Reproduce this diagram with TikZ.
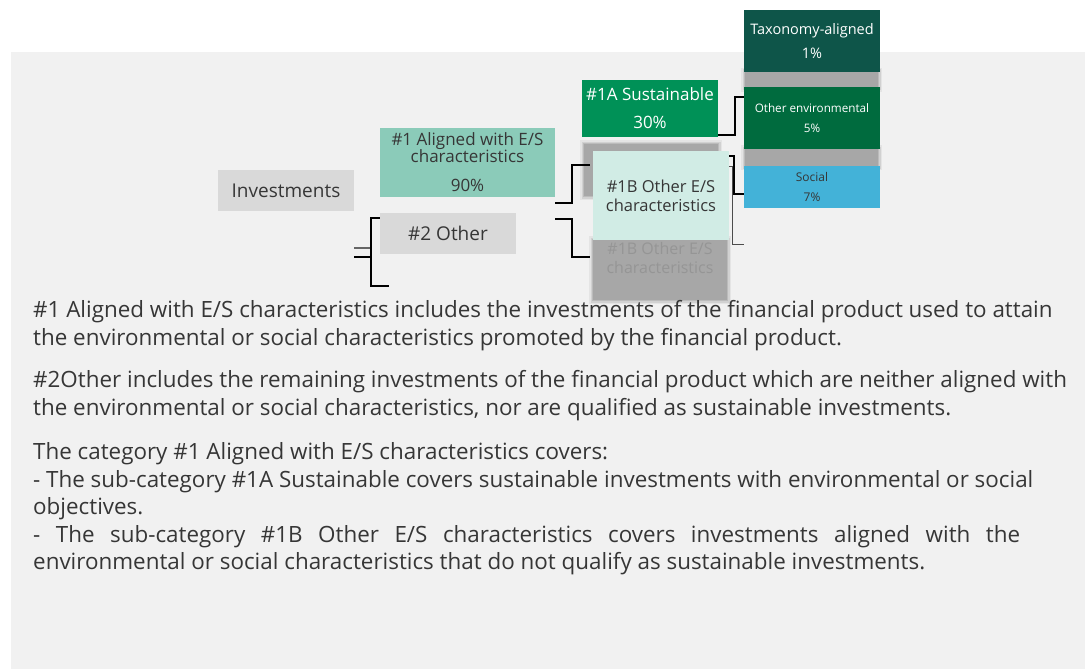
\documentclass[tikz,border=0pt]{standalone}
\usepackage{fontspec}
\setmainfont{Open Sans}
\usetikzlibrary{positioning}

\definecolor{panelgrey}{HTML}{F1F1F1}
\definecolor{invgrey}{HTML}{D9D9D9}
\definecolor{alignedteal}{HTML}{8BCBB9}
\definecolor{sustgreen}{HTML}{009157}
\definecolor{othermint}{HTML}{D1ECE5}
\definecolor{taxoteal}{HTML}{0E5549}
\definecolor{envgreen}{HTML}{006B3E}
\definecolor{socialblue}{HTML}{43B2D8}
\definecolor{shadowgrey}{HTML}{9A9A9A}
\definecolor{textgrey}{HTML}{363636}

% soft grey block (blurred copy of a box)
\newcommand{\shadowrect}[4]{%
  \foreach \e/\o in {4/0.15,2.5/0.25,1/0.4,0/0.6}
    \fill[shadowgrey,opacity=\o] (#1-\e,#2-\e) rectangle (#3+\e,#4+\e);}

\tikzset{
  box/.style={inner sep=0pt, align=center, text=textgrey},
  link/.style={line width=1.6pt, black},
  bodytext/.style={anchor=base west, inner sep=0pt, text=textgrey,
                   font=\fontsize{22.4}{26}\selectfont},
}

\begin{document}
\begin{tikzpicture}[x=1pt,y=-1pt]
    \useasboundingbox (0,0) rectangle (1085,669);
    \fill[white] (0,0) rectangle (1085,669);
    \fill[panelgrey] (11,52) rectangle (1085,669);

    % shadows behind the boxes
    \shadowrect{584}{144}{718}{196}
    \shadowrect{593}{240}{727}{300}
    \shadowrect{745}{72}{878}{88}
    \shadowrect{745}{149}{878}{166}
    \node[box, text=black!50, opacity=0.45, font=\fontsize{16}{19}\selectfont] (ghost) at (660,258)
      {\#1B Other E/S\\characteristics};

    \node[box, fill=invgrey, minimum width=136, minimum height=41,
          font=\fontsize{19}{22}\selectfont] (inv) at (286,190.5) {Investments};
    \node[box, fill=alignedteal, minimum width=175, minimum height=69,
          font=\fontsize{17}{17}\selectfont] (aligned) at (467.5,162.5)
      {\#1 Aligned with E/S\\characteristics\\[12pt]90\%};
    \node[box, fill=invgrey, minimum width=136, minimum height=41,
          font=\fontsize{19}{22}\selectfont] (other) at (448,233.5) {\#2 Other};

    \node[box, fill=sustgreen, text=white, minimum width=136, minimum height=57,
          font=\fontsize{17}{17}\selectfont] (sust) at (650,108.5)
      {\#1A Sustainable\\[11pt]30\%};
    \node[box, fill=othermint, minimum width=136, minimum height=89,
          font=\fontsize{16.5}{19}\selectfont] (otheres) at (661,195.5)
      {\#1B Other E/S\\characteristics};

    \node[box, fill=taxoteal, text=white, minimum width=136, minimum height=62,
          font=\fontsize{14.5}{16}\selectfont] (taxo) at (812,41)
      {Taxonomy-aligned\\[8pt]1\%};
    \node[box, fill=envgreen, text=white, minimum width=136, minimum height=62,
          font=\fontsize{11.7}{14}\selectfont] (otherenv) at (812,118)
      {Other environmental\\[6pt]5\%};
    \node[box, fill=socialblue, minimum width=136, minimum height=42,
          font=\fontsize{12}{14}\selectfont] (social) at (812,187)
      {Social\\[6pt]7\%};

    % brackets
    \draw[link, black!60] (inv.east |- 0,248) -- ++(18,0);
    \draw[link] (inv.east |- 0,257) -- ++(18,0);
    \draw[link] (other.west |- 0,218) -- ++(-9,0) |- ([xshift=9pt]other.west |- 0,286);

    \draw[link] (aligned.east |- 0,203) -- ++(17,0) |- ([xshift=-3pt]otheres.west |- 0,165);
    \draw[link] (aligned.east |- 0,219) -- ++(17,0) |- ([xshift=-3pt]otheres.west |- 0,257);

    \draw[link] (sust.east |- 0,135) -- ++(17,0) |- (otherenv.west |- 0,97);
    \draw[link] (otheres.east |- 0,156) -- ++(5,0) |- (social.west |- 0,194);
    \draw[line width=1pt, black!70] (otheres.east |- 0,166) -- ++(3,0) |- (social.west |- 0,244);

    % notes below the chart
    \foreach \yb/\line [count=\i] in {
      317/{\#1 Aligned with E/S characteristics includes the investments of the financial product used to attain},
      345/{the environmental or social characteristics promoted by the financial product.},
      387/{\#2Other includes the remaining investments of the financial product which are neither aligned with},
      415/{the environmental or social characteristics, nor are qualified as sustainable investments.},
      459/{The category \#1 Aligned with E/S characteristics covers:},
      487/{- The sub-category \#1A Sustainable covers sustainable investments with environmental or social},
      514/{objectives.},
      542/{\makebox[987pt][s]{- The sub-category \#1B Other E/S characteristics covers investments aligned with the}},
      569/{environmental or social characteristics that do not qualify as sustainable investments.}} {
      \node[bodytext] (note\i) at (33,\yb) {\line};
    }

  \end{tikzpicture}
\end{document}
